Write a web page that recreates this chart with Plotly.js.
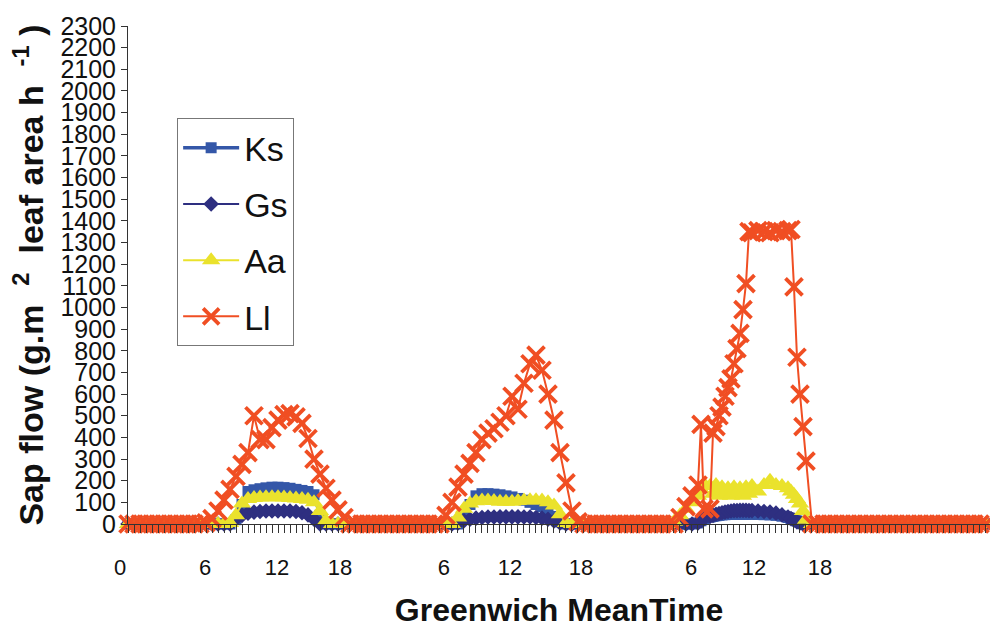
<!DOCTYPE html>
<html>
<head>
<meta charset="utf-8">
<script src="https://cdn.plot.ly/plotly-3.0.1.min.js"></script>
<style>
  html, body { margin: 0; padding: 0; background: #ffffff; }
  #chart { width: 990px; height: 628px; }
</style>
</head>
<body>
<div id="chart"></div>
<script>
// ---- sample positions along the (category-like) time axis ----
const tNight1 = [0,1,2,3,4,5,6,7,8,9,10,11,12];
const tDay1   = [13,14,15,16,17,18,19,20,21,22,23,24,25,26,27,28,29,30,31,32,33,34,35,36,37];
const tNight2 = [38,39,40,41,42,43,44,45,46,47,48,49,50,51];
const tDay2   = [52,53,54,55,56,57,58,59,60,61,62,63,64,65,66,67,68,69,70,71,72,73,74,75,76];
const tNight3 = [77,78,79,80,81,82,83,84,85,86,87,88,89];
const tDay3   = [90,91,92,93,94,95,95.5,96,97,97.5,98,98.5,99,99.5,100,100.5,101,101.5,102,102.5,103,103.5,104,105,106,107,108,109,110,110.5,111,111.5,112,112.5,113,114];
const tNight4 = [115,116,117,118,119,120,121,122,123,124,125,126,127,128,129,130,131,132,133,134,135,136,137,138,139,140,141,142,143];

// night-time readings (all series zero)
const zeroNight1 = [0,0,0,0,0,0,0,0,0,0,0,0,0];
const zeroNight2 = [0,0,0,0,0,0,0,0,0,0,0,0,0,0];
const zeroNight3 = [0,0,0,0,0,0,0,0,0,0,0,0,0];
const zeroNight4 = [0,0,0,0,0,0,0,0,0,0,0,0,0,0,0,0,0,0,0,0,0,0,0,0,0,0,0,0,0];

// ---- daytime sap flow readings (g m-2 leaf area h-1) ----
const ksDay1 = [0,0,0,0,0,20,90,150,158,163,167,170,170,168,165,160,155,150,135,40,0,0,0,0,0];
const gsDay1 = [0,0,0,0,0,25,40,50,55,58,60,60,60,60,60,58,52,42,22,0,0,0,0,0,0];
const aaDay1 = [0,0,0,0,5,40,95,115,120,122,124,124,124,122,120,118,116,112,100,60,15,0,0,0,0];
const llDay1 = [5,25,60,110,160,220,275,330,500,390,390,445,480,505,510,495,465,395,300,230,165,110,65,30,0];

const ksDay2 = [0,0,0,0,30,90,130,140,140,138,135,130,125,118,110,100,90,80,60,35,10,0,0,0,0];
const gsDay2 = [0,0,0,5,15,22,27,30,32,32,33,33,33,33,32,32,30,27,22,14,5,0,0,0,0];
const aaDay2 = [0,0,0,30,70,95,105,108,108,106,103,103,103,106,108,110,110,108,100,85,45,5,0,0,0];
const llDay2 = [0,40,100,170,230,280,330,390,420,440,470,500,590,530,650,740,780,710,600,480,330,190,60,10,0];

const ksDay3 = [0,0,0,0,0,5,15,25,32,35,38,40,42,43,44,45,45,45,45,45,45,45,45,44,43,42,40,36,30,25,20,14,8,3,0,0];
const gsDay3 = [0,0,0,0,0,5,15,25,35,40,45,48,52,55,58,60,62,62,63,63,63,62,62,60,58,55,50,42,32,25,18,10,5,0,0,0];
const aaDay3 = [0,10,40,70,100,130,160,185,175,140,180,130,170,135,165,130,170,135,165,130,170,140,175,150,180,200,180,175,165,150,135,115,95,60,20,0];
const llDay3 = [0,0,30,80,130,180,460,70,70,420,450,500,540,590,630,670,740,810,880,990,1110,1350,1345,1355,1350,1345,1355,1350,1355,1360,1095,770,600,450,290,0];

// ---- axis tick labels ----
const tickText = ['0','6','12','18','6','12','18','6','12','18'];
const tickPos  = [0,14.17,26.17,36.67,54,65,76.83,95.17,105.67,116.67];
const yTicks = [0,100,200,300,400,500,600,700,800,900,1000,1100,1200,1300,1400,1500,1600,1700,1800,1900,2000,2100,2200,2300];

const seriesNames = ['Ks','Gs','Aa','Ll'];

const t = [].concat(tNight1, tDay1, tNight2, tDay2, tNight3, tDay3, tNight4);
function full(d1, d2, d3) {
  return [].concat(zeroNight1, d1, zeroNight2, d2, zeroNight3, d3, zeroNight4);
}
const ks = full(ksDay1, ksDay2, ksDay3);
const gs = full(gsDay1, gsDay2, gsDay3);
const aa = full(aaDay1, aaDay2, aaDay3);
const ll = full(llDay1, llDay2, llDay3);

const traces = [
  { x: t, y: ks, name: seriesNames[0], legendgroup: 'a', type: 'scatter', mode: 'lines+markers', cliponaxis: false,
    line: { color: '#3457A8', width: 3.5 },
    marker: { symbol: 'square', size: 11, color: '#3457A8' } },
  { x: t, y: gs, name: seriesNames[1], legendgroup: 'b', type: 'scatter', mode: 'lines+markers', cliponaxis: false,
    line: { color: '#2E2F80', width: 2 },
    marker: { symbol: 'diamond', size: 12, color: '#2E2F80' } },
  { x: t, y: aa, name: seriesNames[2], legendgroup: 'c', type: 'scatter', mode: 'lines+markers', cliponaxis: false,
    line: { color: '#EAE22C', width: 2 },
    marker: { symbol: 'triangle-up', size: 16, color: '#EAE22C' } },
  { x: t, y: ll, name: seriesNames[3], legendgroup: 'd', type: 'scatter', mode: 'lines+markers', cliponaxis: false,
    line: { color: '#F04E23', width: 2 },
    marker: { symbol: 'x-thin', size: 17, color: '#F04E23', line: { color: '#F04E23', width: 3.8 } } }
];

const layout = {
  width: 990, height: 628,
  margin: { l: 128, r: 0, t: 26, b: 104 },
  paper_bgcolor: '#ffffff', plot_bgcolor: '#ffffff',
  font: { family: 'Liberation Sans, Arial, sans-serif', color: '#111111' },
  showlegend: true,
  legend: {
    x: 0.057, y: 0.815, xanchor: 'left', yanchor: 'top',
    bgcolor: '#ffffff', bordercolor: '#777777', borderwidth: 1,
    font: { size: 34, family: 'Liberation Sans, Arial, sans-serif', color: '#111111' },
    itemwidth: 56, tracegroupgap: 9, traceorder: 'grouped'
  },
  xaxis: {
    range: [0, 143.67], showgrid: false, zeroline: false,
    showline: true, linecolor: '#333333', linewidth: 1,
    tickmode: 'array', tickvals: tickPos, ticktext: tickText, ticks: '',
    ticklabelshift: -8, ticklabelstandoff: 24,
    tickfont: { size: 22, family: 'Liberation Sans, Arial, sans-serif', color: '#111111' },
    minor: { dtick: 1, tick0: 0, ticks: 'outside', ticklen: 8, tickcolor: '#333333', tickwidth: 1, showgrid: false },
    title: { text: 'Greenwich MeanTime', standoff: 20,
      font: { size: 32, family: 'Liberation Sans, Arial, sans-serif', weight: 'bold', color: '#111111' } }
  },
  yaxis: {
    range: [0, 2300], showgrid: false, zeroline: false,
    showline: true, linecolor: '#333333', linewidth: 1,
    tickmode: 'array', tickvals: yTicks, ticks: 'outside', ticklen: 6, tickcolor: '#333333',
    tickfont: { size: 25, family: 'Liberation Sans Narrow, Arial Narrow, Liberation Sans, sans-serif', color: '#111111' },
    title: { text: 'Sap flow (g.m\u00A0\u00A0<sup>2</sup>\u00A0\u00A0leaf area h\u00A0\u00A0<sup>-1</sup>\u00A0)', standoff: 6,
      font: { size: 34, family: 'Liberation Sans, Arial, sans-serif', weight: 'bold', color: '#111111' } }
  }
};

Plotly.newPlot('chart', traces, layout, { displayModeBar: false, staticPlot: true });
</script>
</body>
</html>
